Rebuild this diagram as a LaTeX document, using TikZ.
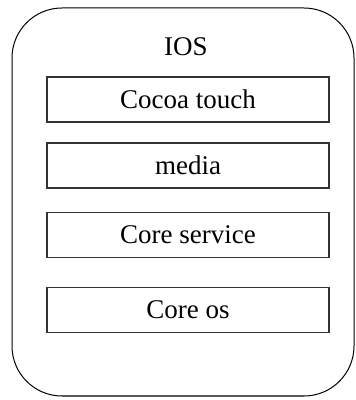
\documentclass[tikz,border=0pt]{standalone}
\usepackage{fontspec}
\setmainfont{Liberation Serif}

\tikzset{
  layer/.style={draw=black!80,line width=1.4pt,minimum width=282pt,minimum height=45pt,inner sep=0pt},
}

\begin{document}
\begin{tikzpicture}[x=1pt,y=1pt,font=\fontsize{27}{32}\selectfont]
  \useasboundingbox (0,0) rectangle (356,400);

  %outer frame
  \draw[line width=1pt,rounded corners=50pt] (12,4) rectangle (354,392);
  \node (ios) at (186,353) {IOS};

  %layers
  \node[layer] (touch)   at (188,300.5) {Cocoa touch};
  \node[layer] (media)   at (188,234.5) {media};
  \node[layer] (service) at (188,165) {Core service};
  \node[layer] (coreos)  at (188,90) {Core os};

\end{tikzpicture}
\end{document}
